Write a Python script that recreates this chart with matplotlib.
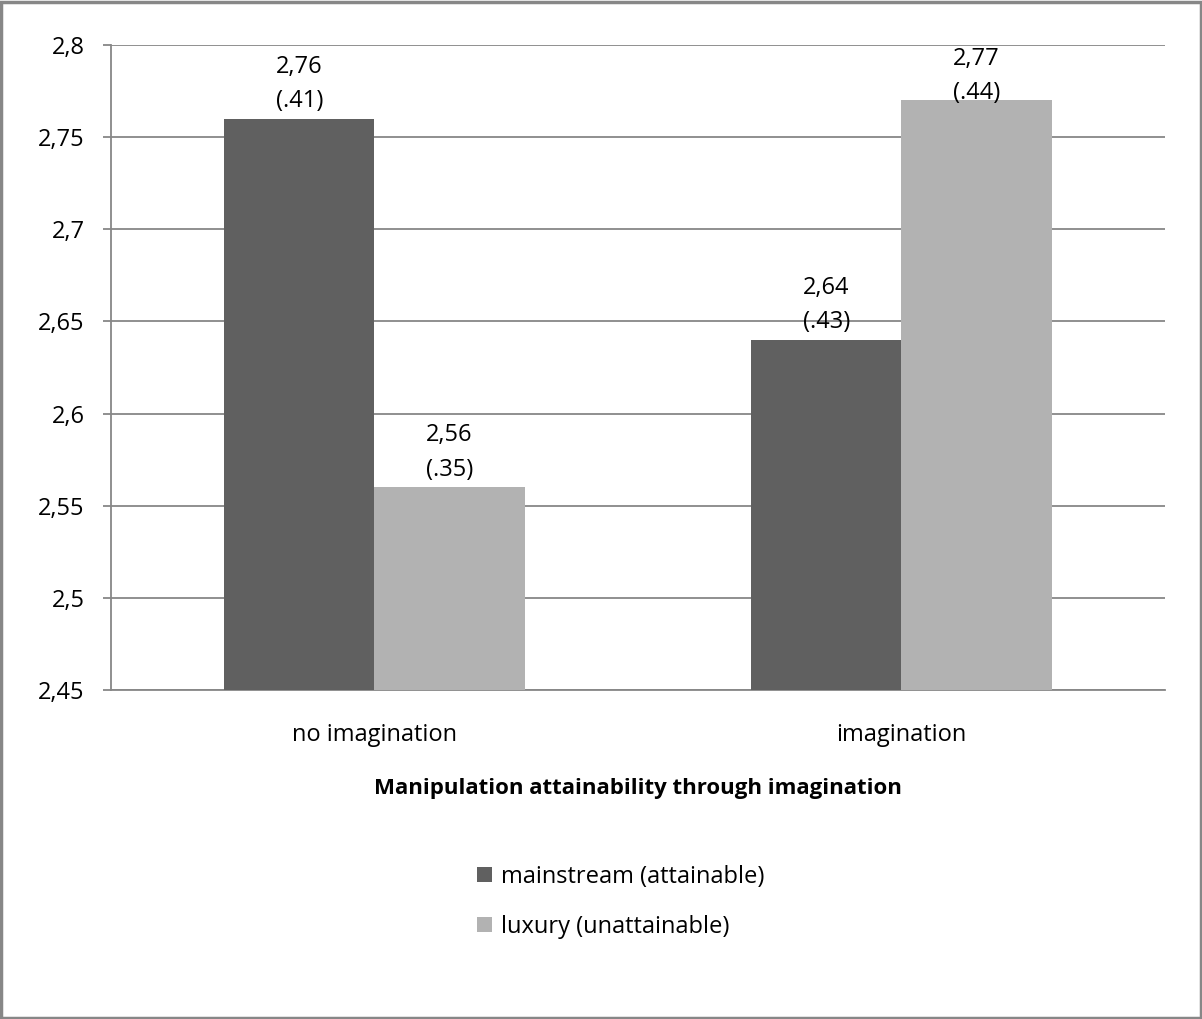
import numpy as np
import matplotlib
matplotlib.use('Agg')
import matplotlib.pyplot as plt
from matplotlib.patches import Patch, Rectangle

plt.rcParams['font.family'] = ['Open Sans', 'DejaVu Sans']

# group means and standard deviations
categories = ['no imagination', 'imagination']
series_names = ['mainstream (attainable)', 'luxury (unattainable)']
means = [[2.76, 2.64],   # mainstream
         [2.56, 2.77]]   # luxury
sds = [['.41', '.43'],
       ['.35', '.44']]
yticks = [2.45, 2.5, 2.55, 2.6, 2.65, 2.7, 2.75, 2.8]

colors = ['#606060', '#b2b2b2']
grid_c = '#878787'
fs = 17

fig = plt.figure(figsize=(12.02, 10.19), dpi=100)
ax = fig.add_axes([0.0923, 0.3229, 0.8769, 0.6329])

x = np.arange(len(categories))
w = 0.285
ymin, ymax = yticks[0], yticks[-1]

for i, (vals, sd) in enumerate(zip(means, sds)):
    xs = x + (i - 0.5) * w
    ax.bar(xs, np.array(vals) - ymin, width=w, bottom=ymin, color=colors[i],
           label=series_names[i], zorder=3)
    for xi, v, s in zip(xs, vals, sd):
        txt = '{:.2f}'.format(v).replace('.', ',') + '\n(' + s + ')'
        if v + 0.038 > ymax:
            # label would leave the plot area: keep it inside, pinned to the top
            ax.text(xi, ymax - 0.001, txt, ha='center', va='top', fontsize=fs,
                    linespacing=1.58, zorder=4)
        else:
            ax.annotate(txt, (xi, v), xytext=(0, 4), textcoords='offset points',
                        ha='center', va='bottom', fontsize=fs, linespacing=1.58,
                        zorder=4)

ax.set_xlim(-0.5, 1.5)
ax.set_ylim(ymin, ymax)
ax.set_yticks(yticks)
ax.set_yticklabels([('%g' % t).replace('.', ',') for t in yticks], fontsize=fs)
ax.set_xticks(x)
ax.set_xticklabels(categories, fontsize=fs)
ax.tick_params(axis='x', length=0, pad=24)
ax.tick_params(axis='y', length=6, width=1.3, color=grid_c, pad=13)
ax.yaxis.grid(True, color=grid_c, linewidth=1.3, zorder=0)
ax.set_axisbelow(True)

for side in ['top', 'right']:
    ax.spines[side].set_visible(False)
for side in ['left', 'bottom']:
    ax.spines[side].set_color(grid_c)
    ax.spines[side].set_linewidth(1.3)

ax.set_xlabel('Manipulation attainability through imagination', fontsize=16,
              fontweight='bold', labelpad=22)

handles = [Patch(facecolor=c, edgecolor='none') for c in colors]
fig.legend(handles, series_names, loc='upper left',
           bbox_to_anchor=(0.397, 0.151), frameon=False, fontsize=fs,
           handlelength=0.62, handleheight=0.62, handletextpad=0.4,
           labelspacing=1.1, borderpad=0, borderaxespad=0)

# outer chart border
fig.patches.append(Rectangle((0.001, 0.001), 0.998, 0.997, transform=fig.transFigure,
                             fill=False, edgecolor=grid_c, linewidth=2.5))

fig.savefig('out.png', dpi=100)
